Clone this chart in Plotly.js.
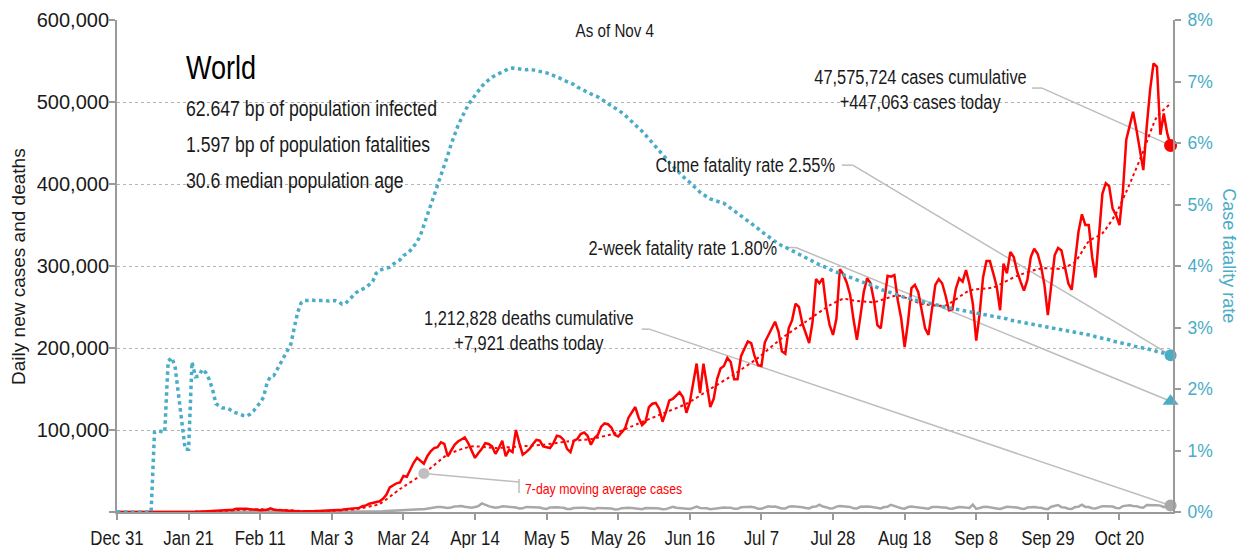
<!DOCTYPE html>
<html><head><meta charset="utf-8">
<script src="https://cdn.plot.ly/plotly-3.0.1.min.js"></script>
<style>html,body{margin:0;padding:0;background:#fff}#chart{width:1241px;height:548px}</style>
</head><body><div id="chart"></div>
<script>
// ---------- DATA ----------
const firstDay = '2019-12-31';   // day 0 of the daily series

// daily new cases, one value per day from Dec 31, 2019 to Nov 4, 2020
const dailyCases = [
30,0,0,0,20,0,20,0,0,0,
0,0,0,0,0,0,10,20,140,20,
150,140,100,260,450,690,790,1000,1700,1500,
1750,2000,2100,2600,2800,4000,4300,3800,4100,3300,
3500,2800,2200,2000,2600,4500,2800,2300,2100,1900,
1300,600,700,1000,700,900,700,1000,1100,1300,
1400,1800,1900,2000,2200,2500,2700,3500,3800,4000,
4500,5000,7000,8000,10000,11000,11500,13000,16000,21000,
30000,33000,35000,36000,44000,43000,51000,60000,66000,63000,
59000,68000,74000,78000,79000,85000,83000,68000,75000,82000,
86000,89000,91000,84000,74000,66000,72000,77000,84000,83000,
80000,71000,78000,87000,68000,76000,73000,100000,84000,70000,
73000,77000,83000,88000,87000,80000,79000,78000,84000,93000,
92000,88000,77000,73000,87000,89000,95000,97000,93000,82000,
90000,94000,104000,108000,107000,103000,94000,92000,97000,102000,
115000,122000,128000,115000,106000,110000,128000,132000,133000,126000,
110000,122000,136000,138000,142000,146000,140000,121000,134000,158000,
181000,145000,181000,155000,128000,138000,162000,175000,178000,188000,
183000,162000,162000,190000,200000,208000,206000,190000,179000,178000,
207000,215000,222000,232000,220000,196000,193000,224000,234000,254000,
250000,230000,218000,206000,232000,284000,279000,285000,250000,228000,
216000,236000,296000,290000,280000,265000,235000,210000,238000,268000,
285000,279000,258000,228000,224000,258000,288000,287000,289000,258000,
236000,201000,232000,273000,277000,268000,244000,224000,216000,245000,
277000,284000,279000,264000,246000,247000,272000,285000,281000,295000,
278000,254000,209000,242000,286000,306000,306000,291000,275000,246000,
303000,291000,317000,311000,293000,281000,270000,283000,311000,321000,
315000,300000,277000,240000,275000,313000,322000,319000,299000,279000,
271000,307000,342000,363000,350000,350000,311000,286000,336000,388000,
401000,397000,370000,362000,350000,390000,454000,472000,488000,466000,
441000,417000,470000,515000,547000,543000,460000,486000,462000,447063
];

// daily new deaths, same days
const dailyDeaths = [
0,0,0,0,0,0,0,0,0,0,
0,1,0,0,1,0,0,0,1,1,
6,9,8,16,15,15,24,26,26,38,
43,46,45,57,64,66,73,73,86,89,
97,108,97,254,13,143,142,106,98,139,
115,118,109,97,150,71,52,29,44,37,
35,58,67,72,84,80,98,102,103,236,
273,322,330,368,428,541,603,760,900,1100,
1400,1700,1700,2000,2300,2700,3000,3500,3600,3300,
3500,4200,5000,5500,6000,6000,5000,4800,5500,6800,
7000,7300,6500,6300,5200,6000,7300,10500,8500,7200,
6000,5200,5700,7000,6600,6300,6200,5400,4400,4500,
6200,5900,6500,5800,5400,4200,3800,5600,6100,5900,
5400,5200,3700,3600,4800,5400,5300,5100,4600,3500,
3600,5000,5000,5200,4500,4400,3100,3200,4700,5400,
5200,4800,4400,3300,3400,4900,5100,5100,4600,4200,
3300,3500,4900,6400,5200,4800,4400,3300,3600,5000,
6700,5000,5100,4600,3500,4000,5100,5400,5400,5300,
5300,4000,3900,5700,6000,6300,6300,5600,4100,4000,
5800,6900,6300,6700,5500,4300,4200,6400,7000,6800,
6400,5700,4800,4400,6300,6600,9000,6600,5900,4400,
4500,6600,7300,7100,6400,6200,4500,4400,6300,6900,
6800,6400,5800,4500,4300,6100,6500,8800,6900,5900,
4600,4100,6100,6700,6000,5500,5600,4300,4100,6000,
6400,6200,5600,5500,4200,3900,5200,6100,5800,5400,
4900,9000,3800,4800,6100,6300,5900,5400,4400,3700,
5300,6300,6000,5800,5400,4200,3600,5500,6300,6200,
5400,5200,4000,3500,6400,7000,8500,5900,5500,4000,
3800,6000,6500,8900,6200,6000,4600,4400,6000,7100,
7000,6500,6600,5000,4600,7200,8000,8200,7400,7100,
5800,5300,8500,8400,9000,8300,7800,6000,7700,7921
];

// cumulative case fatality rate, percent, same days
const caseFatalityPct = [
0,0,0,0,0,0,0,0,0,0,
0,1.30,1.32,1.31,1.30,2.45,2.51,2.38,1.90,1.40,
1.02,1.02,2.44,2.20,2.21,2.32,2.27,2.16,2.00,1.76,
1.72,1.69,1.69,1.67,1.63,1.61,1.58,1.57,1.56,1.59,
1.64,1.70,1.78,1.87,2.10,2.20,2.22,2.32,2.42,2.52,
2.62,2.73,3.00,3.25,3.40,3.44,3.44,3.45,3.44,3.44,
3.45,3.44,3.43,3.44,3.44,3.42,3.38,3.39,3.45,3.50,
3.56,3.60,3.62,3.65,3.70,3.75,3.88,3.93,3.95,3.96,
3.98,4.03,4.06,4.10,4.17,4.20,4.25,4.32,4.39,4.50,
4.66,4.82,4.98,5.14,5.30,5.45,5.62,5.80,5.98,6.14,
6.28,6.40,6.52,6.62,6.70,6.78,6.85,6.92,6.98,7.03,
7.07,7.10,7.13,7.16,7.19,7.21,7.22,7.21,7.20,7.19,
7.19,7.20,7.19,7.18,7.17,7.16,7.14,7.12,7.10,7.08,
7.05,7.02,7.00,6.98,6.95,6.91,6.88,6.85,6.83,6.80,
6.77,6.75,6.72,6.68,6.64,6.60,6.57,6.54,6.50,6.45,
6.40,6.35,6.30,6.25,6.19,6.13,6.07,6.01,5.95,5.89,
5.82,5.75,5.68,5.62,5.56,5.50,5.45,5.40,5.36,5.30,
5.25,5.20,5.16,5.12,5.09,5.07,5.05,5.04,5.02,4.98,
4.94,4.90,4.86,4.82,4.77,4.73,4.69,4.65,4.61,4.56,
4.52,4.48,4.43,4.39,4.36,4.33,4.31,4.28,4.25,4.22,
4.19,4.16,4.13,4.10,4.07,4.04,4.02,4.00,3.97,3.95,
3.92,3.90,3.88,3.86,3.84,3.82,3.80,3.78,3.76,3.74,
3.72,3.69,3.67,3.65,3.62,3.60,3.58,3.56,3.55,3.53,
3.51,3.49,3.48,3.46,3.45,3.43,3.42,3.41,3.39,3.38,
3.37,3.36,3.34,3.33,3.32,3.31,3.30,3.29,3.28,3.27,
3.26,3.25,3.24,3.23,3.22,3.21,3.20,3.19,3.17,3.16,
3.15,3.14,3.12,3.11,3.10,3.09,3.08,3.07,3.06,3.05,
3.04,3.03,3.02,3.01,3.00,2.99,2.98,2.97,2.96,2.95,
2.94,2.93,2.92,2.91,2.89,2.88,2.87,2.85,2.84,2.83,
2.81,2.80,2.78,2.77,2.76,2.74,2.73,2.72,2.70,2.69,
2.68,2.67,2.66,2.64,2.63,2.61,2.60,2.58,2.57,2.55
];

// 7-day moving average of cases (read at about weekly points)
const maDates = ['2019-12-31','2020-01-14','2020-01-21','2020-01-28','2020-02-04','2020-02-11','2020-02-18','2020-02-25',
  '2020-03-03','2020-03-10','2020-03-17','2020-03-23','2020-03-30','2020-04-06','2020-04-13','2020-04-20','2020-04-27',
  '2020-05-04','2020-05-11','2020-05-18','2020-05-25','2020-06-01','2020-06-08','2020-06-15','2020-06-22','2020-06-29',
  '2020-07-06','2020-07-13','2020-07-20','2020-07-27','2020-07-31','2020-08-03','2020-08-09','2020-08-16','2020-08-23',
  '2020-08-30','2020-09-06','2020-09-13','2020-09-20','2020-09-27','2020-10-03','2020-10-07','2020-10-11','2020-10-15',
  '2020-10-19','2020-10-23','2020-10-27','2020-10-31','2020-11-04'];
const maCases = [0,0,100,600,2300,3300,2500,900,
  1500,3500,10000,28000,47000,70000,80000,78000,80000,
  82000,86000,89000,96000,108000,120000,132000,150000,168000,
  188000,212000,232000,252000,260000,258000,256000,264000,254000,
  252000,270000,274000,288000,297000,297000,305000,330000,340000,
  364000,400000,440000,482000,498000];
const maLabelDate = '2020-03-30';   // point of the moving-average curve picked by its label

// headline numbers
const countryName = 'World';
const infectedBp = '62.647';
const fatalitiesBp = '1.597';
const medianAge = '30.6';
const asOfLabel = 'Nov 4';
const cumulativeCases = 47575724;
const casesToday = 447063;
const cumulativeDeaths = 1212828;
const deathsToday = 7921;
const cumeFatalityRate = 2.55;
const twoWeekFatalityRate = 1.80;

// axes
const xTickDates = ['2019-12-31','2020-01-21','2020-02-11','2020-03-03','2020-03-24','2020-04-14','2020-05-05',
  '2020-05-26','2020-06-16','2020-07-07','2020-07-28','2020-08-18','2020-09-08','2020-09-29','2020-10-20'];
const xTickLabels = ['Dec 31','Jan 21','Feb 11','Mar 3','Mar 24','Apr 14','May 5','May 26','Jun 16','Jul 7',
  'Jul 28','Aug 18','Sep 8','Sep 29','Oct 20'];
const yTickVals = [0,100000,200000,300000,400000,500000,600000];
const yTickLabels = ['','100,000','200,000','300,000','400,000','500,000','600,000'];
const y2TickVals = [0,0.01,0.02,0.03,0.04,0.05,0.06,0.07,0.08];

// ---------- BUILD ----------
const DAY = 86400000;
const t0 = Date.UTC(2019, 11, 31);
function dayToDate(d) {
  return new Date(t0 + d * DAY).toISOString().slice(0, 19).replace('T', ' ');
}
const dates = dailyCases.map((_, i) => dayToDate(i));
const lastDate = dates[dates.length - 1];
const cfr = caseFatalityPct.map(v => v / 100);
const maLabelValue = maCases[maDates.indexOf(maLabelDate)];
const fmt = n => n.toLocaleString('en-US');

const FONT = "'Liberation Sans', Arial, sans-serif";
const NARROW = 0.82;   // horizontal squeeze that turns the sans into a narrow face
const TEAL = '#4aacc6';
const RED = '#ff0000';
const GREY = '#a8a8a8';
const LEAD = '#bdbdbd';
const AXIS = '#9a9a9a';
const INK = '#1a1a1a';

const traces = [
  {x: dates, y: dailyDeaths, type: 'scatter', mode: 'lines', line: {color: GREY, width: 2.5}, hoverinfo: 'skip'},
  {x: maDates, y: maCases, type: 'scatter', mode: 'lines', line: {color: RED, width: 2, dash: 'dot', shape: 'spline', smoothing: 0.6}, hoverinfo: 'skip'},
  {x: dates, y: dailyCases, type: 'scatter', mode: 'lines', line: {color: RED, width: 2.5}, hoverinfo: 'skip'},
  {x: [maLabelDate], y: [maLabelValue], type: 'scatter', mode: 'markers', marker: {color: '#bfbfbf', size: 11}, hoverinfo: 'skip'},
  {x: [lastDate], y: [deathsToday], type: 'scatter', mode: 'markers', marker: {color: '#a8a8a8', size: 12}, cliponaxis: false, hoverinfo: 'skip'},
  {x: [lastDate], y: [casesToday], type: 'scatter', mode: 'markers', marker: {color: RED, size: 13}, cliponaxis: false, hoverinfo: 'skip'},
  {x: dates, y: cfr, yaxis: 'y2', type: 'scatter', mode: 'lines', line: {color: TEAL, width: 3.5, dash: 'dot'}, hoverinfo: 'skip'},
  {x: [lastDate], y: [cumeFatalityRate / 100], yaxis: 'y2', type: 'scatter', mode: 'markers', marker: {color: TEAL, size: 12}, cliponaxis: false, hoverinfo: 'skip'},
  {x: [lastDate], y: [twoWeekFatalityRate / 100], yaxis: 'y2', type: 'scatter', mode: 'markers', marker: {color: TEAL, size: 14, symbol: 'triangle-up'}, cliponaxis: false, hoverinfo: 'skip'}
];

function seg(x0, y0, x1, y1, yref) {
  return {type: 'line', xref: 'x', yref: yref || 'y', x0: x0, y0: y0, x1: x1, y1: y1,
          line: {color: LEAD, width: 1.5}, layer: 'below'};
}
const shapes = [
  seg(dayToDate(268.4), 517000, dayToDate(271.3), 517000),
  seg(dayToDate(271.3), 517000, lastDate, casesToday),
  seg(dayToDate(212.6), 0.0564, dayToDate(215.8), 0.0564, 'y2'),
  seg(dayToDate(215.8), 0.0564, lastDate, cumeFatalityRate / 100, 'y2'),
  seg(dayToDate(195.9), 0.0430, dayToDate(199.1), 0.0430, 'y2'),
  seg(dayToDate(199.1), 0.0430, lastDate, twoWeekFatalityRate / 100, 'y2'),
  seg(dayToDate(153.9), 223000, dayToDate(156.1), 223000),
  seg(dayToDate(156.1), 223000, lastDate, deathsToday),
  seg(maLabelDate, maLabelValue, dayToDate(117.9), 36600),
  seg(dayToDate(117.9), 40300, dayToDate(117.9), 23200)
];

function note(text, x, y, size, opts) {
  return Object.assign({text: text, xref: 'paper', yref: 'paper', x: x, y: y, showarrow: false,
    xanchor: 'left', align: 'left', yanchor: 'middle', font: {family: FONT, size: size, color: INK}}, opts || {});
}
const annotations = [
  note(countryName, 0.0635, 0.9044, 33, {font: {family: FONT, size: 33, color: '#000'}}),
  note(infectedBp + ' bp of population infected', 0.0635, 0.819, 21.5),
  note(fatalitiesBp + ' bp of population fatalities', 0.0635, 0.7456, 21.5),
  note(medianAge + ' median population age', 0.0635, 0.6724, 21.5),
  note('As of ' + asOfLabel, 0.472, 0.9795, 18.5, {xanchor: 'center', align: 'center'}),
  note(fmt(cumulativeCases) + ' cases cumulative', 0.7607, 0.8843, 20, {xanchor: 'center', align: 'center'}),
  note('+' + fmt(casesToday) + ' cases today', 0.7607, 0.8335, 20, {xanchor: 'center', align: 'center'}),
  note('Cume fatality rate ' + cumeFatalityRate.toFixed(2) + '%', 0.6815, 0.7051, 20, {xanchor: 'right', align: 'right'}),
  note('2-week fatality rate ' + twoWeekFatalityRate.toFixed(2) + '%', 0.6265, 0.5363, 20, {xanchor: 'right', align: 'right'}),
  note(fmt(cumulativeDeaths) + ' deaths cumulative', 0.3905, 0.3939, 20, {xanchor: 'center', align: 'center'}),
  note('+' + fmt(deathsToday) + ' deaths today', 0.3905, 0.3431, 20, {xanchor: 'center', align: 'center'}),
  note('7-day moving average cases', 0.3840, 0.0482, 15, {font: {family: FONT, size: 15, color: RED}}),
  // axis titles (kept at natural width)
  note('Daily new cases and deaths', -0.0938, 0.5, 19, {xanchor: 'center', align: 'center', textangle: -90}),
  note('Case fatality rate', 1.053, 0.52, 18, {xanchor: 'center', align: 'center', textangle: 90,
       font: {family: FONT, size: 18, color: TEAL}})
];
const titleNotes = [annotations.length - 2, annotations.length - 1];

const layout = {
  width: 1241, height: 548,
  margin: {l: 117, r: 68, t: 20, b: 36, pad: 0},
  paper_bgcolor: '#ffffff', plot_bgcolor: '#ffffff',
  showlegend: false,
  font: {family: FONT, size: 19, color: INK},
  xaxis: {
    type: 'date', range: [firstDay, '2020-11-04 17:00'],
    tickvals: xTickDates, ticktext: xTickLabels, tickfont: {family: FONT, size: 20.5, color: INK},
    ticks: 'outside', ticklen: 6, tickwidth: 2, tickcolor: AXIS,
    showline: true, linecolor: AXIS, linewidth: 2, showgrid: false, zeroline: false, fixedrange: true
  },
  yaxis: {
    range: [0, 600000], tickvals: yTickVals, ticktext: yTickLabels,
    tickfont: {family: FONT, size: 20, color: INK}, ticklabelstandoff: -4,
    ticks: 'outside', ticklen: 6, tickwidth: 2, tickcolor: AXIS,
    showline: true, linecolor: AXIS, linewidth: 2,
    showgrid: true, gridcolor: '#b5b5b5', gridwidth: 1, griddash: 'dot', zeroline: false, fixedrange: true
  },
  yaxis2: {
    overlaying: 'y', side: 'right', range: [0, 0.08], tickvals: y2TickVals, tickformat: '.0%',
    tickfont: {family: FONT, size: 17.5, color: TEAL}, ticklabelstandoff: 3,
    ticks: 'outside', ticklen: 6, tickwidth: 2, tickcolor: AXIS,
    showline: true, linecolor: AXIS, linewidth: 2, showgrid: false, zeroline: false, fixedrange: true
  },
  shapes: shapes,
  annotations: annotations
};

function squeeze(nodes, k) {
  nodes.forEach(t => {
    const len = t.getComputedTextLength();
    if (len > 0) {
      t.setAttribute('textLength', (len * k).toFixed(2));
      t.setAttribute('lengthAdjust', 'spacingAndGlyphs');
    }
  });
}

Plotly.newPlot('chart', traces, layout, {displayModeBar: false, staticPlot: true}).then(gd => {
  squeeze(gd.querySelectorAll('.xtick text'), NARROW);
  gd.querySelectorAll('g.annotation').forEach(g => {
    const i = Number(g.getAttribute('data-index'));
    if (titleNotes.indexOf(i) === -1) squeeze(g.querySelectorAll('text.annotation-text'), NARROW);
  });
});
</script>
</body></html>
